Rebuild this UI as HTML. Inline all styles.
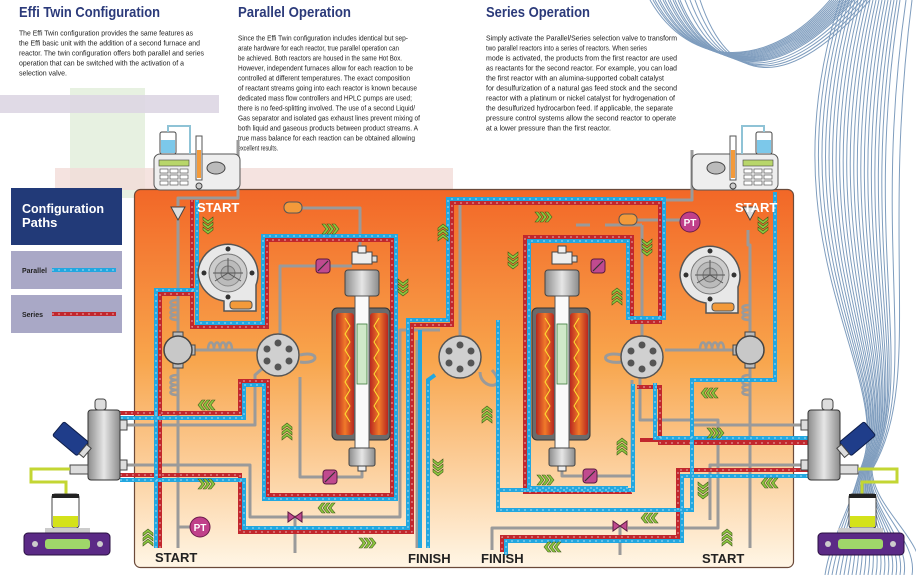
<!DOCTYPE html>
<html><head><meta charset="utf-8"><style>
html,body{margin:0;padding:0;background:#fff;width:916px;height:575px;overflow:hidden}
svg{display:block}
.t{font-family:"Liberation Sans",sans-serif;font-weight:bold;fill:#2b3a7a;font-size:15px}
.b{font-family:"Liberation Sans",sans-serif;font-size:7px;fill:#222}
.g{fill:none;stroke:#9a9a9a;stroke-width:3;stroke-linejoin:round}
.r{fill:none;stroke:#c1272d;stroke-width:4}
.bl{fill:none;stroke:#22a7e0;stroke-width:4}
.d{fill:none;stroke:#fff;stroke-width:1;stroke-dasharray:2 4;opacity:.6}
.lbl{font-family:"Liberation Sans",sans-serif;font-weight:bold;font-size:13px}
.w{fill:none;stroke:#7f9dbe;stroke-width:1}
</style></head><body>
<svg width="916" height="575" viewBox="0 0 916 575" xmlns="http://www.w3.org/2000/svg">
<defs>
<linearGradient id="og" x1="0" y1="0" x2="0" y2="1">
<stop offset="0" stop-color="#f26727"/><stop offset=".45" stop-color="#f8a54c"/><stop offset="1" stop-color="#fff6e6"/></linearGradient>
<linearGradient id="mt" x1="0" y1="0" x2="1" y2="0">
<stop offset="0" stop-color="#8c8c8c"/><stop offset=".5" stop-color="#e6e6e6"/><stop offset="1" stop-color="#8c8c8c"/></linearGradient>
<linearGradient id="fu" x1="0" y1="0" x2="1" y2="0">
<stop offset="0" stop-color="#b8271f"/><stop offset=".5" stop-color="#f07a2a"/><stop offset="1" stop-color="#b8271f"/></linearGradient>
<g id="chv"><path d="M0 0 L5 4 L10 0 L10 3 L5 7 L0 3Z M0 5 L5 9 L10 5 L10 8 L5 12 L0 8Z M0 10 L5 14 L10 10 L10 13 L5 17 L0 13Z" fill="#8dc63f" stroke="#3d5a1a" stroke-width=".6" transform="translate(-5,-8)"/></g>
<g id="fan"><path d="M-30 0 A30 30 0 1 1 28 12 L28 38 L-4 38 L-4 28 A30 30 0 0 1 -30 0Z" fill="#e8e8e8" stroke="#555" stroke-width="1.5"/><circle r="19" fill="#ccc" stroke="#777"/><circle r="13" fill="#bbb" stroke="#888"/><circle r="7" fill="#aaa" stroke="#777"/><path d="M0 0 L0 -15 M0 0 L13 8 M0 0 L-13 8 M-15 0 L15 0" stroke="#555" stroke-width="1"/><circle cx="0" cy="-24" r="2.5" fill="#333"/><circle cx="0" cy="24" r="2.5" fill="#333"/><circle cx="-24" cy="0" r="2.5" fill="#333"/><circle cx="24" cy="0" r="2.5" fill="#333"/><rect x="2" y="28" width="22" height="8" rx="3" fill="#f39a3a" stroke="#555"/></g>
<g id="six"><circle r="21" fill="#d0d0d0" stroke="#555" stroke-width="1.5"/><circle cx="0" cy="-12" r="3.5" fill="#555"/><circle cx="0" cy="12" r="3.5" fill="#555"/><circle cx="-11" cy="-6" r="3.5" fill="#555"/><circle cx="11" cy="-6" r="3.5" fill="#555"/><circle cx="-11" cy="6" r="3.5" fill="#555"/><circle cx="11" cy="6" r="3.5" fill="#555"/></g>
<g id="three"><rect x="-5" y="-18" width="10" height="6" fill="#bbb" stroke="#444"/><rect x="-5" y="12" width="10" height="6" fill="#bbb" stroke="#444"/><rect x="11" y="-5" width="6" height="10" fill="#bbb" stroke="#444"/><circle r="14" fill="#c8c8c8" stroke="#444" stroke-width="1.5"/></g>
<g id="pv"><rect x="-7" y="-7" width="14" height="14" rx="3" fill="#c04a8f" stroke="#5a1a40"/><path d="M-5 5 L5 -5" stroke="#333" stroke-width="1.2"/></g>
<g id="reac">
<rect x="-10" y="0" width="20" height="12" fill="#eee" stroke="#444"/><rect x="-4" y="-6" width="8" height="7" fill="#eee" stroke="#444"/><rect x="10" y="4" width="5" height="6" fill="#ddd" stroke="#444"/>
<rect x="-17" y="18" width="34" height="26" rx="3" fill="url(#mt)" stroke="#444"/>
<rect x="-30" y="56" width="58" height="132" rx="5" fill="#6b6b6b" stroke="#333"/>
<rect x="-26" y="61" width="18" height="122" rx="3" fill="url(#fu)"/><rect x="8" y="61" width="18" height="122" rx="3" fill="url(#fu)"/>
<path d="M-17 66 l5 8 l-5 8 l5 8 l-5 8 l5 8 l-5 8 l5 8 l-5 8 l5 8 l-5 8 l5 8 l-5 8 l5 8 M17 66 l-5 8 l5 8 l-5 8 l5 8 l-5 8 l5 8 l-5 8 l5 8 l-5 8 l5 8 l-5 8 l5 8 l-5 8" fill="none" stroke="#ffe033" stroke-width="1"/>
<rect x="-7" y="44" width="14" height="152" fill="#fafafa" stroke="#555"/><rect x="-5" y="72" width="10" height="60" fill="#cfe8c8" stroke="#3a7a3a" stroke-width=".8"/>
<rect x="-13" y="196" width="26" height="18" rx="2" fill="url(#mt)" stroke="#444"/><rect x="-4" y="214" width="8" height="5" fill="#eee" stroke="#444"/></g>
<g id="pump"><rect x="0" y="22" width="86" height="36" rx="6" fill="#eee" stroke="#555"/><rect x="6" y="0" width="16" height="22" rx="2" fill="#fff" stroke="#444"/><rect x="7" y="8" width="14" height="13" fill="#7cc8ea"/><path d="M14 0 V-6 H36 V22" fill="none" stroke="#8fc3d6" stroke-width="2"/><rect x="5" y="28" width="30" height="6" fill="#b8d66a" stroke="#444" stroke-width=".6"/><g fill="#fff" stroke="#444" stroke-width=".6"><rect x="6" y="37" width="8" height="4"/><rect x="16" y="37" width="8" height="4"/><rect x="26" y="37" width="8" height="4"/><rect x="6" y="43" width="8" height="4"/><rect x="16" y="43" width="8" height="4"/><rect x="26" y="43" width="8" height="4"/><rect x="6" y="49" width="8" height="4"/><rect x="16" y="49" width="8" height="4"/><rect x="26" y="49" width="8" height="4"/></g><rect x="42" y="4" width="6" height="44" fill="#fff" stroke="#555"/><rect x="43" y="18" width="4" height="28" fill="#f39a3a"/><ellipse cx="62" cy="36" rx="9" ry="6" fill="#bbb" stroke="#444"/><circle cx="45" cy="54" r="3" fill="#ccc" stroke="#444"/></g>
<g id="sep"><rect x="88" y="410" width="32" height="70" rx="3" fill="url(#mt)" stroke="#333"/><rect x="95" y="399" width="11" height="11" rx="3" fill="#ddd" stroke="#444"/><g transform="translate(72,440) rotate(40)"><rect x="-18" y="-9" width="32" height="18" rx="2" fill="#1f3d8a" stroke="#0e1e4a"/><rect x="14" y="-6" width="6" height="12" fill="#ddd" stroke="#444"/></g><rect x="120" y="420" width="7" height="10" fill="#ddd" stroke="#444"/><rect x="120" y="460" width="7" height="10" fill="#ddd" stroke="#444"/><rect x="70" y="465" width="18" height="9" fill="#ddd" stroke="#444"/><path d="M70 469 H31 V482 H66 V496" fill="none" stroke="#c3d633" stroke-width="3"/><rect x="52" y="494" width="27" height="34" rx="3" fill="#fff" stroke="#444"/><rect x="52" y="494" width="27" height="4" fill="#222"/><rect x="53" y="516" width="25" height="11" fill="#d4e21a"/><rect x="45" y="528" width="45" height="5" fill="#ccc"/><rect x="24" y="533" width="86" height="22" rx="4" fill="#5b2a86" stroke="#2a1040"/><rect x="45" y="539" width="45" height="10" rx="3" fill="#9fd66a"/><circle cx="35" cy="544" r="3" fill="#ccc"/><circle cx="100" cy="544" r="3" fill="#ccc"/></g>
</defs>

<rect x="70" y="88" width="75" height="110" fill="#e7f1e1"/>
<rect x="0" y="95" width="219" height="18" fill="#ddd6e3" opacity=".9"/>
<rect x="55" y="168" width="398" height="22" fill="#f3dcd8" opacity=".8"/>

<g>
<path class="w" d="M650 0 C690 70 770 70 830 0"/><path class="w" d="M653 0 C692 71 771 71 832 0"/><path class="w" d="M655 0 C694 72 772 72 834 0"/><path class="w" d="M658 0 C696 73 773 73 836 0"/><path class="w" d="M660 0 C698 74 774 74 838 0"/><path class="w" d="M663 0 C700 75 775 75 840 0"/><path class="w" d="M665 0 C702 76 776 76 842 0"/><path class="w" d="M668 0 C704 77 777 77 844 0"/><path class="w" d="M670 0 C706 78 778 78 846 0"/><path class="w" d="M673 0 C708 79 779 79 848 0"/><path class="w" d="M675 0 C710 80 780 80 850 0"/><path class="w" d="M678 0 C712 81 781 81 852 0"/><path class="w" d="M680 0 C714 82 782 82 854 0"/><path class="w" d="M685 0 C718 84 784 84 858 0"/><path class="w" d="M690 0 C722 86 786 86 862 0"/><path class="w" d="M695 0 C726 88 788 88 866 0"/><path class="w" d="M700 0 C730 90 790 90 870 0"/>
<path class="w" d="M840 0 C760 250 900 380 860 470 C850 510 830 540 825 575"/><path class="w" d="M843 0 C765 250 901 380 860 470 C851 510 834 540 828 575"/><path class="w" d="M846 0 C770 250 902 380 861 470 C852 510 838 540 832 575"/><path class="w" d="M849 0 C775 250 903 380 861 470 C853 510 842 540 836 575"/><path class="w" d="M852 0 C780 250 904 380 862 470 C854 510 846 540 840 575"/><path class="w" d="M855 0 C785 250 905 380 862 470 C855 510 850 540 844 575"/><path class="w" d="M858 0 C790 250 906 380 863 470 C856 510 854 540 848 575"/><path class="w" d="M861 0 C795 250 907 380 863 470 C857 510 858 540 852 575"/><path class="w" d="M864 0 C800 250 908 380 864 470 C858 510 862 540 856 575"/><path class="w" d="M867 0 C805 250 909 380 864 470 C859 510 866 540 860 575"/><path class="w" d="M870 0 C810 250 910 380 865 470 C860 510 870 540 864 575"/><path class="w" d="M873 0 C815 250 911 380 865 470 C861 510 874 540 868 575"/><path class="w" d="M876 0 C820 250 912 380 866 470 C862 510 878 540 872 575"/><path class="w" d="M879 0 C825 250 913 380 866 470 C863 510 882 540 876 575"/><path class="w" d="M882 0 C830 250 914 380 867 470 C864 510 886 540 880 575"/><path class="w" d="M885 0 C835 250 915 380 867 470 C865 510 890 540 884 575"/><path class="w" d="M888 0 C840 250 916 380 868 470 C866 510 894 540 888 575"/><path class="w" d="M891 0 C845 250 917 380 868 470 C867 510 898 540 892 575"/><path class="w" d="M894 0 C850 250 918 380 869 470 C868 510 902 540 896 575"/><path class="w" d="M897 0 C855 250 919 380 869 470 C869 510 906 540 900 575"/><path class="w" d="M900 0 C860 250 920 380 870 470 C870 510 910 540 904 575"/><path class="w" d="M906 0 C870 250 922 380 871 470 C872 510 918 540 912 575"/><path class="w" d="M912 0 C880 250 924 380 872 470 C874 510 926 540 920 575"/>
</g>

<text class="t" x="19" y="17" textLength="141" lengthAdjust="spacingAndGlyphs">Effi Twin Configuration</text>
<text class="t" x="238" y="17" textLength="113" lengthAdjust="spacingAndGlyphs">Parallel Operation</text>
<text class="t" x="486" y="17" textLength="104" lengthAdjust="spacingAndGlyphs">Series Operation</text>
<g class="b">
<text x="19" y="35.5" textLength="174" lengthAdjust="spacingAndGlyphs">The Effi Twin configuration provides the same features as</text>
<text x="19" y="45.5" textLength="181" lengthAdjust="spacingAndGlyphs">the Effi basic unit with the addition of a second furnace and</text>
<text x="19" y="55.5" textLength="185" lengthAdjust="spacingAndGlyphs">reactor. The twin configuration offers both parallel and series</text>
<text x="19" y="65.5" textLength="165" lengthAdjust="spacingAndGlyphs">operation that can be switched with the activation of a</text>
<text x="19" y="75.5" textLength="48" lengthAdjust="spacingAndGlyphs">selection valve.</text>
<text x="238" y="40.5" textLength="170" lengthAdjust="spacingAndGlyphs">Since the Effi Twin configuration includes identical but sep-</text>
<text x="238" y="50.5" textLength="161" lengthAdjust="spacingAndGlyphs">arate hardware for each reactor, true parallel operation can</text>
<text x="238" y="60.5" textLength="164" lengthAdjust="spacingAndGlyphs">be achieved. Both reactors are housed in the same Hot Box.</text>
<text x="238" y="70.5" textLength="175" lengthAdjust="spacingAndGlyphs">However, independent furnaces allow for each reaction to be</text>
<text x="238" y="80.5" textLength="172" lengthAdjust="spacingAndGlyphs">controlled at different temperatures. The exact composition</text>
<text x="238" y="90.5" textLength="179" lengthAdjust="spacingAndGlyphs">of reactant streams going into each reactor is known because</text>
<text x="238" y="100.5" textLength="174" lengthAdjust="spacingAndGlyphs">dedicated mass flow controllers and HPLC pumps are used;</text>
<text x="238" y="110.5" textLength="177" lengthAdjust="spacingAndGlyphs">there is no feed-splitting involved. The use of a second Liquid/</text>
<text x="238" y="120.5" textLength="182" lengthAdjust="spacingAndGlyphs">Gas separator and isolated gas exhaust lines prevent mixing of</text>
<text x="238" y="130.5" textLength="180" lengthAdjust="spacingAndGlyphs">both liquid and gaseous products between product streams. A</text>
<text x="238" y="140.5" textLength="177" lengthAdjust="spacingAndGlyphs">true mass balance for each reaction can be obtained allowing</text>
<text x="238" y="150.5" textLength="40" lengthAdjust="spacingAndGlyphs">excellent results.</text>
<text x="486" y="40.5" textLength="191" lengthAdjust="spacingAndGlyphs">Simply activate the Parallel/Series selection valve to transform</text>
<text x="486" y="50.5" textLength="161" lengthAdjust="spacingAndGlyphs">two parallel reactors into a series of reactors. When series</text>
<text x="486" y="60.5" textLength="191" lengthAdjust="spacingAndGlyphs">mode is activated, the products from the first reactor are used</text>
<text x="486" y="70.5" textLength="191" lengthAdjust="spacingAndGlyphs">as reactants for the second reactor. For example, you can load</text>
<text x="486" y="80.5" textLength="178" lengthAdjust="spacingAndGlyphs">the first reactor with an alumina-supported cobalt catalyst</text>
<text x="486" y="90.5" textLength="191" lengthAdjust="spacingAndGlyphs">for desulfurization of a natural gas feed stock and the second</text>
<text x="486" y="100.5" textLength="189" lengthAdjust="spacingAndGlyphs">reactor with a platinum or nickel catalyst for hydrogenation of</text>
<text x="486" y="110.5" textLength="187" lengthAdjust="spacingAndGlyphs">the desulfurized hydrocarbon feed. If applicable, the separate</text>
<text x="486" y="120.5" textLength="190" lengthAdjust="spacingAndGlyphs">pressure control systems allow the second reactor to operate</text>
<text x="486" y="130.5" textLength="125" lengthAdjust="spacingAndGlyphs">at a lower pressure than the first reactor.</text>
</g>

<rect x="11" y="188" width="111" height="57" fill="#223a78"/>
<text x="22" y="213" fill="#fff" font-family="Liberation Sans,sans-serif" font-weight="bold" font-size="13" textLength="82" lengthAdjust="spacingAndGlyphs">Configuration</text>
<text x="22" y="227" fill="#fff" font-family="Liberation Sans,sans-serif" font-weight="bold" font-size="13">Paths</text>
<rect x="11" y="251" width="111" height="38" fill="#a9a8c6"/>
<text x="22" y="273" fill="#222" font-family="Liberation Sans,sans-serif" font-weight="bold" font-size="7">Parallel</text>
<line x1="52" y1="270" x2="116" y2="270" stroke="#22a7e0" stroke-width="4"/><line x1="52" y1="270" x2="116" y2="270" class="d"/>
<rect x="11" y="295" width="111" height="38" fill="#a9a8c6"/>
<text x="22" y="317" fill="#222" font-family="Liberation Sans,sans-serif" font-weight="bold" font-size="7">Series</text>
<line x1="52" y1="314" x2="116" y2="314" stroke="#c1272d" stroke-width="4"/><line x1="52" y1="314" x2="116" y2="314" class="d"/>

<rect x="134.5" y="189.5" width="659" height="378" rx="6" fill="url(#og)" stroke="#6b4a3a" stroke-width="1.2"/>

<g class="g">
<path d="M238 140 V198 H178 V206"/>
<path d="M178 220 V336 M178 364 V548"/>
<path d="M192 350 H258"/>
<path d="M298 208 H360 V246"/>
<path d="M280 334 V266 H316 M330 266 H352"/>
<path d="M362 462 V477 H337 M323 477 H300 V377"/>
<path d="M127 425 H255 V375 L263 368"/>
<path d="M127 465 H250 V517 H400 V330 L440 330"/>
<path d="M295 517 V553"/>
<path d="M417 520 V548 M417 340 V520"/>
<path d="M460 336 V200 H692 V150"/>
<path d="M492 550 V528 H614 M628 528 H718 V420 H640 V377"/>
<path d="M642 336 V225 M642 225 H605 M590 225 H576"/>
<path d="M562 462 V476 H582 M596 476 H632 V380"/>
<path d="M628 220 H684"/>
<path d="M750 336 V245 H748 V230 M750 364 V548"/>
<path d="M736 350 H692 H665"/>
<path d="M801 425 H692 V380 M801 465 H710 V520"/>
<path d="M200 527 H178"/>
<path d="M620 526 V555"/>
<path d="M480 372 C480 390 510 390 492 370"/>
<path d="M300 355 C320 350 320 365 300 362"/>
<path d="M622 355 C600 350 600 365 622 362"/>
</g>
<g fill="none" stroke="#9a9a9a" stroke-width="2.5">
<path d="M208 350 c0 -10 6 -10 6 0 c0 -10 6 -10 6 0 c0 -10 6 -10 6 0 c0 -10 6 -10 6 0"/>
<path d="M178 300 c-10 0 -10 5 0 5 c-10 0 -10 5 0 5 c-10 0 -10 5 0 5 c-10 0 -10 5 0 5"/>
<path d="M178 375 c-10 0 -10 5 0 5 c-10 0 -10 5 0 5 c-10 0 -10 5 0 5 c-10 0 -10 5 0 5"/>
<path d="M700 350 c0 -10 6 -10 6 0 c0 -10 6 -10 6 0 c0 -10 6 -10 6 0 c0 -10 6 -10 6 0"/>
<path d="M750 305 c-10 0 -10 5 0 5 c-10 0 -10 5 0 5 c-10 0 -10 5 0 5"/>
<path d="M750 375 c-10 0 -10 5 0 5 c-10 0 -10 5 0 5 c-10 0 -10 5 0 5 c-10 0 -10 5 0 5"/>
</g>

<g class="r">
<path d="M192 200 V327 H267 V240 H392 V495 H268 V381 H240 V413 H120"/>
<path d="M160 548 V294 H192"/>
<path d="M120 475 H240 V532 H412 V325 H452 V203 H660 V322 H632 V237 H525 V492 H632"/>
<path d="M637 387 H660 V443 H808"/>
<path d="M808 470 H678 V537 H502 V552"/>
<path d="M640 440 H808"/>
</g>
<g class="bl">
<path d="M197 200 V323 H263 V236 H396 V499 H264 V385 H244 V418 H120"/>
<path d="M156 548 V290 H196"/>
<path d="M120 480 H244 V528 H408 V320 H448 V199 H664 V318 H628 V241 H529 V488 H628"/>
<path d="M633 384 V490 H500"/>
<path d="M655 383 V438 H808"/>
<path d="M808 476 H682 V541 H506 V555"/>
<path d="M428 548 V380 L435 375"/>
<path d="M498 320 V510 H692 V380 H775 V192"/>
<path d="M420 548 V330"/>
</g>
<g class="d">
<path d="M192 200 V327 H267 V240 H392 V495 H268 V381 H240 V413 H120"/>
<path d="M160 548 V294 H192"/>
<path d="M120 475 H240 V532 H412 V325 H452 V203 H660 V322 H632 V237 H525 V492 H632"/>
<path d="M637 387 H660 V443 H808"/>
<path d="M808 470 H678 V537 H502 V552"/>
<path d="M197 200 V323 H263 V236 H396 V499 H264 V385 H244 V418 H120"/>
<path d="M156 548 V290 H196"/>
<path d="M120 480 H244 V528 H408 V320 H448 V199 H664 V318 H628 V241 H529 V488 H628"/>
<path d="M633 384 V490 H500"/>
<path d="M655 383 V438 H808"/>
<path d="M808 476 H682 V541 H506 V555"/>
<path d="M428 548 V380"/>
<path d="M498 320 V510 H692 V380 H775 V192"/>
</g>

<use href="#fan" x="228" y="273"/>
<use href="#fan" x="710" y="275"/>
<use href="#six" x="278" y="355"/>
<use href="#six" x="460" y="357"/>
<use href="#six" x="642" y="357"/>
<use href="#three" x="178" y="350"/>
<g transform="translate(750,350) scale(-1,1)"><use href="#three"/></g>
<use href="#reac" x="362" y="252"/>
<use href="#reac" x="562" y="252"/>
<use href="#pv" x="323" y="266"/>
<use href="#pv" x="330" y="477"/>
<use href="#pv" x="598" y="266"/>
<use href="#pv" x="590" y="476"/>
<rect x="284" y="202" width="18" height="11" rx="5" fill="#f39a3a" stroke="#555"/>
<rect x="619" y="214" width="18" height="11" rx="5" fill="#f39a3a" stroke="#555"/>
<path d="M288 512 L302 522 L302 512 L288 522Z" fill="#c04a8f" stroke="#5a1a40"/>
<path d="M613 521 L627 531 L627 521 L613 531Z" fill="#c04a8f" stroke="#5a1a40"/>
<path d="M171 207 H185 L178 220Z" fill="#ddd" stroke="#444"/>
<path d="M743 207 H757 L750 220Z" fill="#ddd" stroke="#444"/>
<circle cx="200" cy="527" r="10" fill="#c0408a" stroke="#6a1a4a"/><text x="200" y="531" text-anchor="middle" fill="#fff" font-family="Liberation Sans,sans-serif" font-weight="bold" font-size="10">PT</text>
<circle cx="690" cy="222" r="10" fill="#c0408a" stroke="#6a1a4a"/><text x="690" y="226" text-anchor="middle" fill="#fff" font-family="Liberation Sans,sans-serif" font-weight="bold" font-size="10">PT</text>
<use href="#pump" x="154" y="132"/>
<g transform="translate(932,0) scale(-1,1)"><use href="#pump" x="154" y="132"/></g>
<use href="#sep"/>
<g transform="translate(928,0) scale(-1,1)"><use href="#sep"/></g>

<use href="#chv" transform="translate(208,225)"/>
<use href="#chv" transform="translate(330,229) rotate(-90)"/>
<use href="#chv" transform="translate(403,287)"/>
<use href="#chv" transform="translate(443,233) rotate(180)"/>
<use href="#chv" transform="translate(543,217) rotate(-90)"/>
<use href="#chv" transform="translate(513,260)"/>
<use href="#chv" transform="translate(617,297) rotate(180)"/>
<use href="#chv" transform="translate(763,225)"/>
<use href="#chv" transform="translate(647,247)"/>
<use href="#chv" transform="translate(710,393) rotate(90)"/>
<use href="#chv" transform="translate(715,433) rotate(-90)"/>
<use href="#chv" transform="translate(622,447) rotate(180)"/>
<use href="#chv" transform="translate(770,483) rotate(90)"/>
<use href="#chv" transform="translate(703,490)"/>
<use href="#chv" transform="translate(650,518) rotate(90)"/>
<use href="#chv" transform="translate(727,538) rotate(180)"/>
<use href="#chv" transform="translate(207,405) rotate(90)"/>
<use href="#chv" transform="translate(287,432) rotate(180)"/>
<use href="#chv" transform="translate(206,484) rotate(-90)"/>
<use href="#chv" transform="translate(327,508) rotate(90)"/>
<use href="#chv" transform="translate(367,543) rotate(-90)"/>
<use href="#chv" transform="translate(148,538) rotate(180)"/>
<use href="#chv" transform="translate(438,467)"/>
<use href="#chv" transform="translate(487,415) rotate(180)"/>
<use href="#chv" transform="translate(545,480) rotate(-90)"/>
<use href="#chv" transform="translate(553,547) rotate(90)"/>

<text class="lbl" x="197" y="212" fill="#fff">START</text>
<text class="lbl" x="735" y="212" fill="#fff">START</text>
<text class="lbl" x="155" y="562" fill="#222">START</text>
<text class="lbl" x="408" y="563" fill="#222">FINISH</text>
<text class="lbl" x="481" y="563" fill="#222">FINISH</text>
<text class="lbl" x="702" y="563" fill="#222">START</text>
</svg>
</body></html>
